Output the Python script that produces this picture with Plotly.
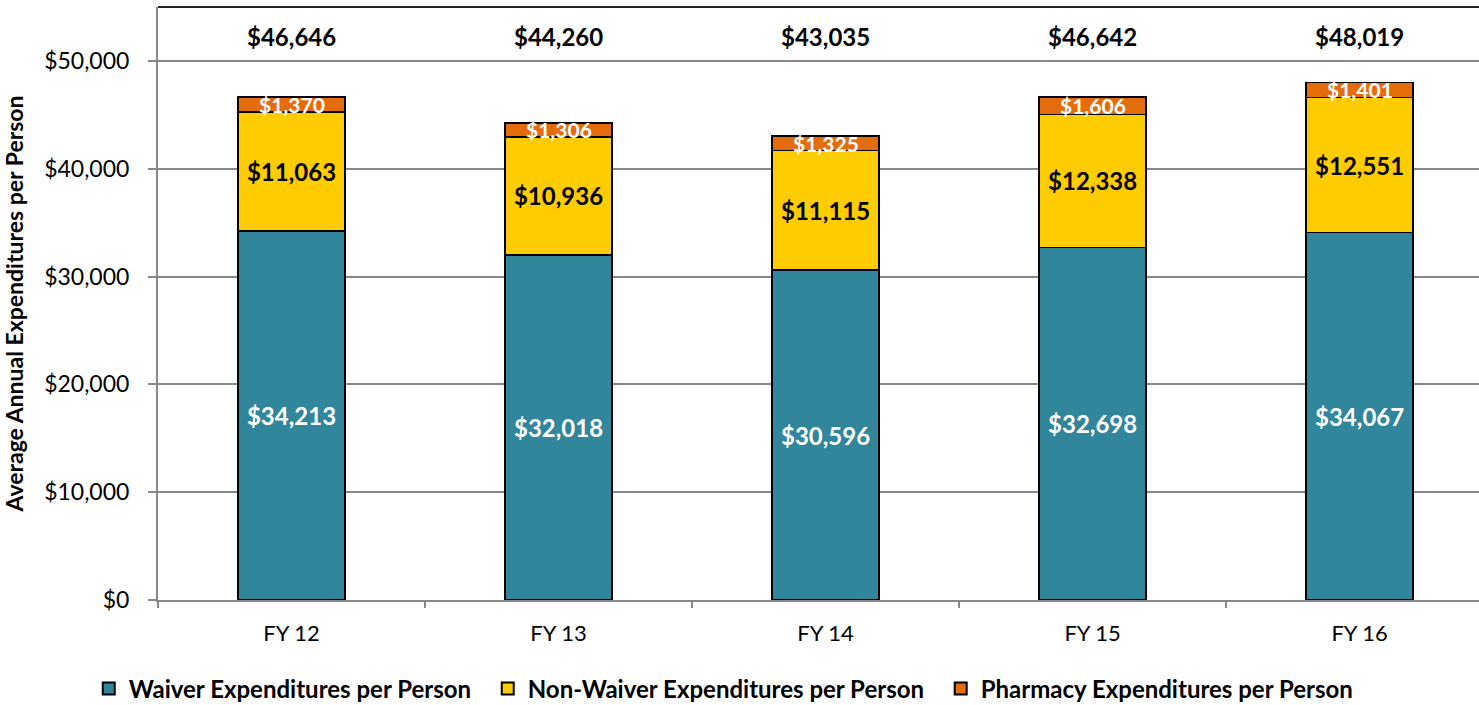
import plotly.graph_objects as go

categories = ["FY 12", "FY 13", "FY 14", "FY 15", "FY 16"]
waiver = [34213, 32018, 30596, 32698, 34067]
non_waiver = [11063, 10936, 11115, 12338, 12551]
pharmacy = [1370, 1306, 1325, 1606, 1401]
totals = [46646, 44260, 43035, 46642, 48019]
series_names = ["Waiver Expenditures per Person",
                "Non-Waiver Expenditures per Person",
                "Pharmacy Expenditures per Person"]

FONT = "Lato"
line = dict(color="black", width=1.5)
PAD = "\u00a0\u00a0"

fig = go.Figure()
fig.add_trace(go.Bar(
    name=series_names[0] + PAD, x=categories, y=waiver,
    marker=dict(color="#31869B", line=line), width=0.4,
    text=[f"${v:,}" for v in waiver], textposition="inside",
    insidetextanchor="middle", textangle=0,
    textfont=dict(family=FONT, size=24, color="white", weight="bold"),
))
fig.add_trace(go.Bar(
    name=series_names[1] + PAD, x=categories, y=non_waiver,
    marker=dict(color="#FFCC00", line=line), width=0.4,
    text=[f"${v:,}" for v in non_waiver], textposition="inside",
    insidetextanchor="middle", textangle=0,
    textfont=dict(family=FONT, size=24, color="black", weight="bold"),
))
fig.add_trace(go.Bar(
    name=series_names[2], x=categories, y=pharmacy,
    marker=dict(color="#E46C0A", line=line), width=0.4,
    textposition="none",
))

for c, w, n, p, t in zip(categories, waiver, non_waiver, pharmacy, totals):
    fig.add_annotation(x=c, y=w + n + p / 2, text=f"${p:,}", showarrow=False,
                       font=dict(family=FONT, size=21, color="white", weight="bold"),
                       yanchor="middle")
    fig.add_annotation(x=c, y=52300, text=f"${t:,}", showarrow=False,
                       font=dict(family=FONT, size=24, color="black", weight="bold"),
                       yanchor="middle")

fig.add_shape(type="line", xref="paper", yref="paper", x0=0, x1=1, y0=1, y1=1,
              line=dict(color="#222222", width=2))

fig.update_layout(
    barmode="stack",
    width=1479, height=705,
    margin=dict(l=158, r=0, t=7, b=105),
    plot_bgcolor="white", paper_bgcolor="white",
    font=dict(family=FONT, color="black"),
    showlegend=True,
    legend=dict(orientation="h", xref="container", x=0.06, xanchor="left",
                yref="container", y=0.023, yanchor="middle",
                font=dict(family=FONT, size=24, color="black", weight="bold"),
                traceorder="normal", itemsizing="constant"),
    xaxis=dict(range=[-0.5, 4.447], tickson="boundaries", ticks="outside", ticklen=6,
               tickcolor="#888888", tickwidth=2, showline=True, linecolor="#888888",
               linewidth=2, tickfont=dict(family=FONT, size=22, color="black"),
               ticklabelstandoff=13, showgrid=False, automargin=False),
    yaxis=dict(range=[0, 55000], dtick=10000, tickprefix="$", tickformat=",",
               ticks="outside", ticklen=8, tickcolor="#888888", tickwidth=2,
               showline=True, linecolor="#888888", linewidth=2,
               gridcolor="#888888", gridwidth=2, automargin=False,
               ticklabelstandoff=14,
               tickfont=dict(family=FONT, size=23, color="black"),
               title=dict(text="Average Annual Expenditures per Person",
                          font=dict(family=FONT, size=23, color="black", weight="bold"),
                          standoff=14)),
)

fig.write_html("out.html", config={"displayModeBar": False},
               post_script="document.body.style.margin='0';document.body.style.padding='0';")
